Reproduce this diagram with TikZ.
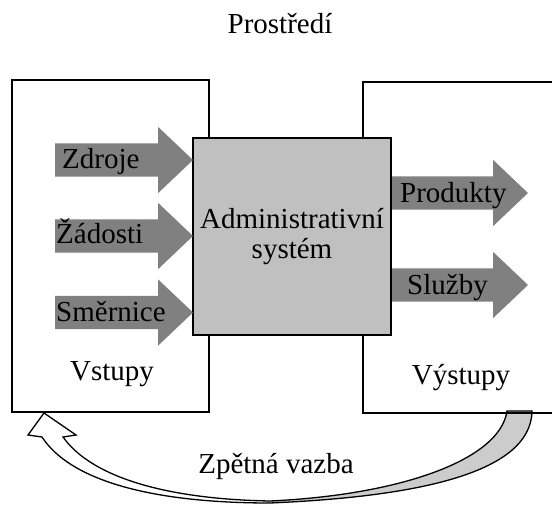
\documentclass[tikz,border=0pt]{standalone}
\usepackage{fontspec}
\setmainfont{Liberation Serif}
\usetikzlibrary{shapes.arrows, positioning, calc}
\definecolor{sysgray}{RGB}{192,192,192}
\definecolor{flowgray}{RGB}{128,128,128}
\definecolor{backgray}{RGB}{204,204,204}

% outline of the feedback ribbon
\newcommand{\feedbackpath}{(532,411) .. controls (531,475) and (410,497) .. (270,503)
  .. controls (150,503) and (70,480) .. (42,437) -- (28,435) -- (44,413) -- (76,435) -- (63,437)
  .. controls (90,475) and (160,499) .. (270,501)
  .. controls (400,495) and (500,460) .. (507,411) -- cycle}

\begin{document}
\begin{tikzpicture}[x=1pt, y=-1pt, font=\fontsize{29pt}{30pt}\selectfont,
    frame/.style={draw, line width=1.6pt, inner sep=0pt, outer sep=0pt},
    flow/.style={single arrow, fill=flowgray, outer sep=0pt, inner xsep=4pt, inner ysep=3.5pt,
      text height=20pt, text depth=6pt, minimum height=138pt,
      single arrow head extend=16.5pt, single arrow tip angle=87, anchor=tip},
    flowtext/.style={anchor=base west, inner sep=0pt}]
  \useasboundingbox (0,0) rectangle (552,504);

  % environment
  \node[anchor=base] (env) at (280,33) {Prostředí};

  % feedback ribbon, back side in gray
  \fill[white] \feedbackpath;
  \begin{scope}
    \clip (266,400) rectangle (552,504);
    \fill[backgray] \feedbackpath;
  \end{scope}
  \draw[line width=1.3pt] \feedbackpath;
  \node[anchor=base] (fb) at (276,473) {Zpětná vazba};

  % inputs and outputs
  \node[frame, minimum width=197pt, minimum height=332pt] (in) at (110.5,246) {};
  \node[frame, minimum width=193pt, minimum height=331pt] (out) at (459.5,247.5) {};
  \node[anchor=base] (inlabel) at (112,380) {Vstupy};
  \node[anchor=base] (outlabel) at (461,384) {Výstupy};

  % output flows
  \node[flow] (produkty) at (528,193) {};
  \node[flow] (sluzby) at (528,285) {};
  \node[flowtext] (produktytext) at ($(produkty.tail)+(10,9)$) {Produkty};
  \node[flowtext] (sluzbytext) at ($(sluzby.tail)+(17,9)$) {Služby};

  % the system
  \node[frame, fill=sysgray, minimum width=198pt, minimum height=197pt, align=center]
    (sys) at (292,236.5) {Administrativní\\systém};

  % input flows
  \node[flow] (zdroje) at (sys.west |- 0,160) {};
  \node[flow] (zadosti) at (sys.west |- 0,236) {};
  \node[flow] (smernice) at (sys.west |- 0,312.5) {};
  \node[flowtext] (zdrojetext) at ($(zdroje.tail)+(7,8)$) {Zdroje};
  \node[flowtext] (zadostitext) at ($(zadosti.tail)+(1,7)$) {Žádosti};
  \node[flowtext] (smernicetext) at ($(smernice.tail)+(1,8.5)$) {Směrnice};
\end{tikzpicture}
\end{document}
